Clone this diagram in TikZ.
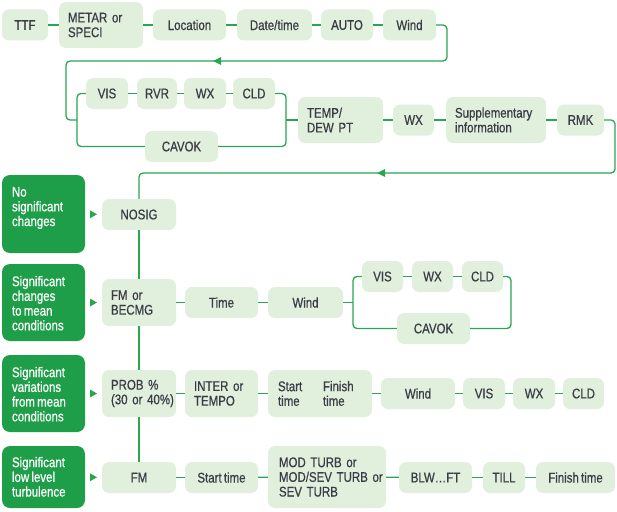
\documentclass[tikz,border=0pt]{standalone}
\usepackage{fontspec}
\setmainfont{Liberation Sans}[FakeStretch=0.82,FakeBold=0.6,WordSpace=0.7]
\definecolor{boxfill}{HTML}{E0F0DC}
\definecolor{dkgreen}{HTML}{1F9E4A}
\definecolor{lc}{HTML}{28A650}
\definecolor{txt}{HTML}{3B3B45}
\newcommand\boxfont{\fontsize{14}{14.7}\selectfont}
\newcommand\gtri[2]{\fill[lc] ($(#1.east)!0.5!(#2.west)$) ++(3.5,0) -- ++(-7,-4) -- ++(0,8) -- cycle;}
\usetikzlibrary{calc}
\begin{document}
\begin{tikzpicture}[x=1pt,y=-1pt,
  lb/.style={fill=boxfill, rounded corners=7pt, font=\boxfont, text=txt, inner sep=0pt, align=center},
  lbl/.style={lb, align=left, inner xsep=9pt, text width=#1},
  wh/.style 2 args={minimum width=#1, minimum height=#2},
  gb/.style={fill=dkgreen, rounded corners=8pt, minimum width=83pt, inner sep=0pt},
  gt/.style={text=white, font=\boxfont, align=left, inner sep=0pt, anchor=north west},
  ln/.style={draw=lc, line width=1.3pt, rounded corners=4pt}]
\useasboundingbox (0,0) rectangle (617,511);
% row 1
\node[lb, wh={46pt}{31pt}] (ttf) at (25,25) {TTF};
\node[lbl=66pt, wh={84pt}{46pt}] (metar) at (101,25) {\mbox{METAR or}\\SPECI};
\node[lb, wh={73pt}{31pt}] (loc) at (189.5,25) {Location};
\node[lb, wh={75pt}{31pt}] (dt) at (274.5,25) {Date/time};
\node[lb, wh={52pt}{31pt}] (auto) at (347,25) {AUTO};
\node[lb, wh={53pt}{31pt}] (wind) at (409.5,25) {Wind};
% row 2
\node[lb, wh={42pt}{31pt}] (vis) at (107,93.5) {VIS};
\node[lb, wh={40pt}{31pt}] (rvr) at (157,93.5) {RVR};
\node[lb, wh={42pt}{31pt}] (wx) at (205,93.5) {WX};
\node[lb, wh={42pt}{31pt}] (cld) at (254,93.5) {CLD};
\node[lb, wh={73pt}{31pt}] (cavok) at (181.5,146.5) {CAVOK};
\node[lbl=67pt, wh={85pt}{46pt}] (temp) at (340.5,120) {TEMP/\\\mbox{DEW PT}};
\node[lb, wh={41pt}{31pt}] (wxb) at (413.5,120) {WX};
\node[lbl=82pt, wh={100pt}{46pt}] (supp) at (496,120) {Supplementary\\information};
\node[lb, wh={47pt}{31pt}] (rmk) at (580.5,120) {RMK};
% green boxes
\node[gb, minimum height=78pt] (g1) at (43.5,214) {};
\node[gt] (g1t) at ([shift={(10pt,-12pt)}]g1.north west) {No\\significant\\changes};
\node[gb, minimum height=77pt] (g2) at (43.5,302.5) {};
\node[gt] (g2t) at ([shift={(10pt,-12pt)}]g2.north west) {Significant\\changes\\to mean\\conditions};
\node[gb, minimum height=77pt] (g3) at (43.5,393.5) {};
\node[gt] (g3t) at ([shift={(10pt,-12pt)}]g3.north west) {Significant\\variations\\from mean\\conditions};
\node[gb, minimum height=62pt] (g4) at (43.5,477) {};
\node[gt] (g4t) at ([shift={(10pt,-11pt)}]g4.north west) {Significant\\low level\\turbulence};
% column
\node[lb, wh={74pt}{31pt}] (nosig) at (139,214.5) {NOSIG};
\node[lbl=56pt, wh={74pt}{47pt}] (fmb) at (139,302.5) {\mbox{FM or}\\BECMG};
\node[lbl=56pt, wh={74pt}{47pt}] (prob) at (139,393.5) {\mbox{PROB \%}\\\mbox{(30 or 40\%)}};
\node[lb, wh={74pt}{31pt}] (fm) at (139,477.5) {FM};
% FM or BECMG row
\node[lb, wh={73pt}{31pt}] (time) at (221.5,302.5) {Time};
\node[lb, wh={75pt}{31pt}] (wind2) at (305.5,302.5) {Wind};
\node[lb, wh={41pt}{31pt}] (vis2) at (382.5,276.5) {VIS};
\node[lb, wh={41pt}{31pt}] (wx2) at (432.5,276.5) {WX};
\node[lb, wh={41pt}{31pt}] (cld2) at (482.5,276.5) {CLD};
\node[lb, wh={73pt}{31pt}] (cavok2) at (433.5,328.5) {CAVOK};
% PROB row
\node[lbl=55pt, wh={73pt}{47pt}] (inter) at (221.5,393.5) {\mbox{INTER or}\\TEMPO};
\node[lbl=84pt, inner xsep=10pt, wh={104pt}{47pt}] (sf) at (320,393.5) {\makebox[45pt][l]{Start}Finish\\\makebox[45pt][l]{time}time};
\node[lb, wh={74pt}{31pt}] (wind3) at (418,393.5) {Wind};
\node[lb, wh={42pt}{31pt}] (vis3) at (484,393.5) {VIS};
\node[lb, wh={42pt}{31pt}] (wx3) at (534,393.5) {WX};
\node[lb, wh={41pt}{31pt}] (cld3) at (583.5,393.5) {CLD};
% FM row
\node[lb, wh={73pt}{31pt}] (start) at (221.5,477.5) {Start time};
\node[lbl=96pt, inner xsep=11pt, wh={118pt}{62pt}] (mod) at (327,477) {\mbox{MOD TURB or}\\\mbox{MOD/SEV TURB or}\\\mbox{SEV TURB}};
\node[lb, wh={73pt}{31pt}] (blw) at (435.5,477.5) {BLW…FT};
\node[lb, wh={42pt}{31pt}] (till) at (504,477.5) {TILL};
\node[lb, wh={79pt}{31pt}] (fin) at (575.5,477.5) {Finish time};
% connectors row 1
\draw[ln] (ttf) -- (metar);
\draw[ln] (metar) -- (loc);
\draw[ln] (loc) -- (dt);
\draw[ln] (dt) -- (auto);
\draw[ln] (auto) -- (wind);
\coordinate (c1) at (447,61);
\coordinate (c2) at (66,61);
\coordinate (jl1) at (77,120);
\coordinate (jr1) at (286,120);
\draw[ln] (wind.east) -| (c1) -- (c2) |- (jl1);
\fill[lc] (213,61) -- ++(8,-4) -- ++(0,8) -- cycle;
% row 2
\draw[ln] (vis.west) -| (jl1) |- (cavok.west);
\draw[ln] (vis) -- (rvr);
\draw[ln] (rvr) -- (wx);
\draw[ln] (wx) -- (cld);
\draw[ln] (cld.east) -| (jr1) |- (cavok.east);
\draw[ln] (jr1) -- (temp.west);
\draw[ln] (temp) -- (wxb);
\draw[ln] (wxb) -- (supp);
\draw[ln] (supp) -- (rmk);
\coordinate (c3) at (615,173);
\coordinate (c4) at (139,173);
\draw[ln] (rmk.east) -| (c3) -- (c4) -- (nosig.north);
\fill[lc] (377,173) -- ++(8,-4) -- ++(0,8) -- cycle;
% column
\draw[ln] (nosig) -- (fmb);
\draw[ln] (fmb) -- (prob);
\draw[ln] (prob) -- (fm);
\gtri{g1}{nosig}
\gtri{g2}{fmb}
\gtri{g3}{prob}
\gtri{g4}{fm}
% FM or BECMG row
\draw[ln] (fmb) -- (time);
\draw[ln] (time) -- (wind2);
\coordinate (jl2) at (353,302.5);
\coordinate (jr2) at (511,302.5);
\draw[ln] (wind2) -- (jl2);
\draw[ln] (vis2.west) -| (jl2) |- (cavok2.west);
\draw[ln] (vis2) -- (wx2);
\draw[ln] (wx2) -- (cld2);
\draw[ln] (cld2.east) -| (jr2) |- (cavok2.east);
% PROB row
\draw[ln] (prob) -- (inter);
\draw[ln] (inter) -- (sf);
\draw[ln] (sf) -- (wind3);
\draw[ln] (wind3) -- (vis3);
\draw[ln] (vis3) -- (wx3);
\draw[ln] (wx3) -- (cld3);
% FM row
\draw[ln] (fm) -- (start);
\draw[ln] (start) -- (mod);
\draw[ln] (mod) -- (blw);
\draw[ln] (blw) -- (till);
\draw[ln] (till) -- (fin);
\end{tikzpicture}
\end{document}
